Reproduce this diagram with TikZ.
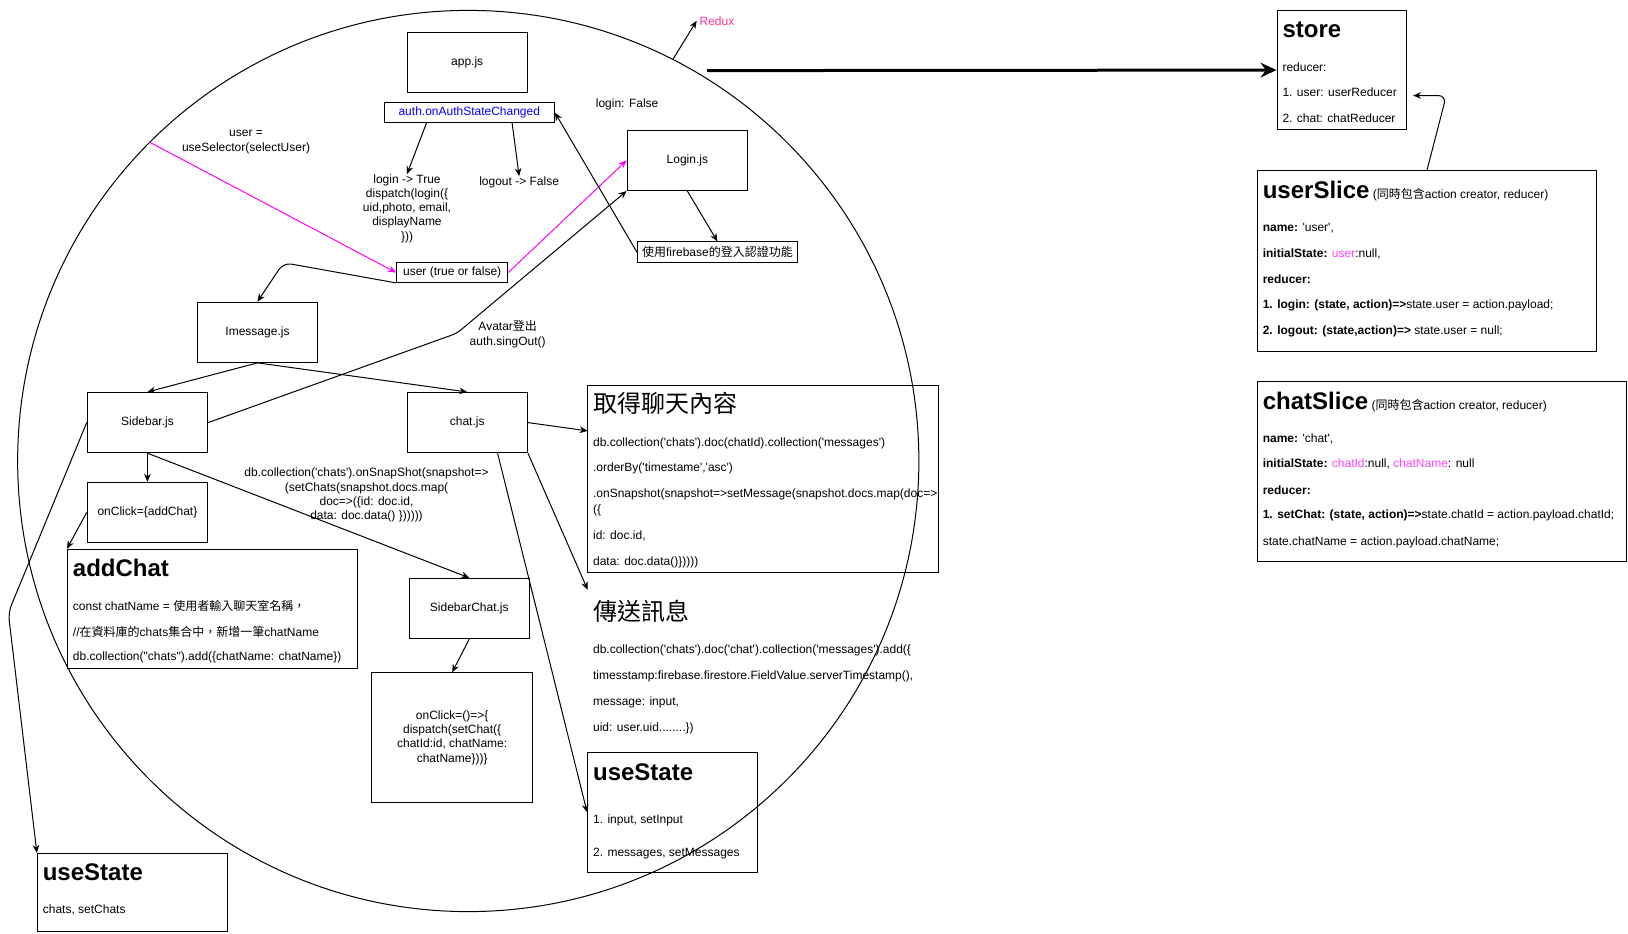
\documentclass[tikz,border=0pt]{standalone}
\usepackage{fontspec}
\setmainfont{Liberation Sans}[Ligatures=TeXOff]
\newfontfamily\cjkfont{Noto Sans CJK TC}
\newcommand{\zhtw}[1]{{\cjkfont #1}}
\newcommand{\pxu}{0.7787pt}
\usetikzlibrary{arrows.meta, positioning, calc}

\definecolor{reduxpink}{RGB}{255,51,153}
\definecolor{selectpink}{RGB}{255,0,255}
\definecolor{authblue}{RGB}{0,0,255}
\definecolor{statepink}{RGB}{255,68,255}

\tikzset{
  box/.style={draw, line width=0.75pt, inner sep=0pt, font=\fontsize{9}{11}\selectfont},
  jsbox/.style={box, minimum width=116*\pxu, minimum height=58*\pxu},
  txt/.style={inner sep=0pt, anchor=west, yshift=-1pt, font=\fontsize{9}{11}\selectfont},
  note/.style={inner sep=0pt, align=center, yshift=-1pt, font=\fontsize{9}{10.7}\selectfont},
  head/.style={inner sep=0pt, anchor=west, font=\fontsize{18}{21}\selectfont\bfseries},
  zhhead/.style={inner sep=0pt, anchor=west, font=\fontsize{18}{21}\selectfont\cjkfont},
  link/.style={->, line width=0.75pt},
}

\begin{document}
\begin{tikzpicture}[x=\pxu, y=-\pxu, >={Stealth[length=6pt,width=5pt,inset=2pt]}]
  \useasboundingbox (0,0) rectangle (1568,899);

  % react side
  \node[draw, circle, line width=0.75pt, minimum size=868*\pxu, inner sep=0pt] (frontend) at (451,444) {};
  \node[inner sep=2pt, anchor=west, text=reduxpink, font=\fontsize{9}{11}\selectfont] (redux) at (671,20) {Redux};
  \draw[link] (frontend.63.5) -- (redux.west);

  \node[jsbox] (app) at (450,60) {app.js};
  \node[box, minimum width=164*\pxu, minimum height=19*\pxu, text=authblue] (auth) at (452,108.5) {auth.onAuthStateChanged};
  \node[note] (loginfalse) at (604,99) {login: False};
  \node[jsbox] (login) at (662,154.5) {Login.js};
  \node[box, minimum width=154*\pxu, minimum height=20*\pxu] (firebase) at (691,243) {\zhtw{使用}firebase\zhtw{的登入認證功能}};
  \node[note] (logintext) at (392,199.5) {login -> True\\dispatch(login(\{\\uid,photo, email,\\displayName\\\}))};
  \node[note] (logouttext) at (500,174) {logout -> False};
  \node[note] (selectuser) at (237,135.5) {user =\\useSelector(selectUser)};
  \node[box, minimum width=107*\pxu, minimum height=19*\pxu] (user) at (435.5,262.5) {user (true or false)};

  \node[jsbox] (imessage) at (248,320) {Imessage.js};
  \node[jsbox] (sidebar) at (142,407) {Sidebar.js};
  \node[jsbox] (chat) at (450,407) {chat.js};
  \node[note] (signout) at (489,320.5) {Avatar\zhtw{登出}\\auth.singOut()};
  \node[jsbox] (addchatbtn) at (142,493.5) {onClick=\{addChat\}};
  \node[jsbox] (sidebarchat) at (452,586) {SidebarChat.js};
  \node[note] (snapshot) at (353,475.5) {db.collection('chats').onSnapShot(snapshot=>\\(setChats(snapshot.docs.map(\\doc=>(\{id: doc.id,\\data: doc.data() \})))))};
  \node[box, minimum width=155*\pxu, minimum height=125*\pxu, align=center, font=\fontsize{9}{10.7}\selectfont] (setchat) at (435.5,710.5) {onClick=()=>\{\\dispatch(setChat(\{\\chatId:id, chatName:\\chatName\}))\}};

  \node[box, minimum width=279*\pxu, minimum height=115*\pxu] (addchat) at (204.5,586.5) {};
  \node[head] (addchattitle) at (70,547) {addChat};
  \node[txt] (addchat1) at (70,582) {const chatName = \zhtw{使用者輸入聊天室名稱，}};
  \node[txt] (addchat2) at (70,607) {//\zhtw{在資料庫的}chats\zhtw{集合中，新增一筆}chatName};
  \node[txt] (addchat3) at (70,632) {db.collection("chats").add(\{chatName: chatName\})};

  \node[box, minimum width=183*\pxu, minimum height=75*\pxu] (chatsstate) at (127.5,859.5) {};
  \node[head] (chatsstatetitle) at (41,840) {useState};
  \node[txt] (chatsstate1) at (41,875) {chats, setChats};

  \node[box, minimum width=338*\pxu, minimum height=180*\pxu] (fetch) at (735,461) {};
  \node[zhhead] (fetchtitle) at (571,388) {取得聊天內容};
  \node[txt] (fetch1) at (571,426) {db.collection('chats').doc(chatId).collection('messages')};
  \node[txt] (fetch2) at (571,450) {.orderBy('timestame','asc')};
  \node[txt] (fetch3) at (571,475) {.onSnapshot(snapshot=>setMessage(snapshot.docs.map(doc=>};
  \node[txt] (fetch4) at (571,490) {(\{};
  \node[txt] (fetch5) at (571,515) {id: doc.id,};
  \node[txt] (fetch6) at (571,540) {data: doc.data()\}))))};

  \node[zhhead] (sendtitle) at (571,589) {傳送訊息};
  \node[txt] (send1) at (571,625) {db.collection('chats').doc('chat').collection('messages').add(\{};
  \node[txt] (send2) at (571,650) {timesstamp:firebase.firestore.FieldValue.serverTimestamp(),};
  \node[txt] (send3) at (571,675) {message: input,};
  \node[txt] (send4) at (571,700) {uid: user.uid........\})};

  \node[box, minimum width=164*\pxu, minimum height=115*\pxu] (msgstate) at (648,782.5) {};
  \node[head] (msgstatetitle) at (571,744) {useState};
  \node[txt] (msgstate1) at (571,789) {1. input, setInput};
  \node[txt] (msgstate2) at (571,821) {2. messages, setMessages};

  % redux side
  \node[box, minimum width=125*\pxu, minimum height=115*\pxu] (store) at (1292.5,67.5) {};
  \node[head] (storetitle) at (1235,29) {store};
  \node[txt] (store1) at (1235,63) {reducer:};
  \node[txt] (store2) at (1235,88) {1. user: userReducer};
  \node[txt] (store3) at (1235,113) {2. chat: chatReducer};

  \node[box, minimum width=327*\pxu, minimum height=175*\pxu] (userslice) at (1374.5,251.5) {};
  \node[txt] (userslicetitle) at (1216,183) {{\fontsize{18}{21}\selectfont\bfseries userSlice}\ (\zhtw{同時包含}action creator, reducer)};
  \node[txt] (userslice1) at (1216,218) {\textbf{name:} 'user',};
  \node[txt] (userslice2) at (1216,243) {\textbf{initialState:} \textcolor{statepink}{user}:null,};
  \node[txt] (userslice3) at (1216,268) {\textbf{reducer:}};
  \node[txt] (userslice4) at (1216,293) {\textbf{1. login: (state, action)=>}state.user = action.payload;};
  \node[txt] (userslice5) at (1216,318) {\textbf{2. logout: (state,action)=>} state.user = null;};

  \node[box, minimum width=356*\pxu, minimum height=174*\pxu] (chatslice) at (1389,454) {};
  \node[txt] (chatslicetitle) at (1216,386) {{\fontsize{18}{21}\selectfont\bfseries chatSlice}\ (\zhtw{同時包含}action creator, reducer)};
  \node[txt] (chatslice1) at (1216,421) {\textbf{name:} 'chat',};
  \node[txt] (chatslice2) at (1216,446) {\textbf{initialState:} \textcolor{statepink}{chatId}:null, \textcolor{statepink}{chatName}: null};
  \node[txt] (chatslice3) at (1216,471) {\textbf{reducer:}};
  \node[txt] (chatslice4) at (1216,495) {\textbf{1. setChat: (state, action)=>}state.chatId = action.payload.chatId;};
  \node[txt] (chatslice5) at (1216,521) {state.chatName = action.payload.chatName;};

  % connectors
  \coordinate (reduxtail) at (681,68);
  \coordinate (storein) at (1361,92);
  \coordinate (fetchin) at (566,415);
  \coordinate (sendin) at (566,568);
  \draw[line width=2.25pt, -{Stealth[length=12pt,width=11pt,inset=4pt]}] (reduxtail) -- (store.west);
  \draw[link, rounded corners=6pt] (userslice.north) -- (1393,92) -- (storein);

  \draw[link] ($(auth.south west)!.25!(auth.south east)$) -- (logintext.north);
  \draw[link] ($(auth.south west)!.75!(auth.south east)$) -- (logouttext.north);
  \draw[link, selectpink] (frontend.135.4) -- (user.west);
  \draw[link, selectpink] (user.east) -- (login.west);
  \draw[link, rounded corners=6pt] (user.south west) -- (273,253) -- (imessage.north);
  \draw[link] (login.south) -- (firebase.north);
  \draw[link] (firebase.west) -- (auth.east);
  \draw[link] (imessage.south) -- (sidebar.north);
  \draw[link] (imessage.south) -- (chat.north);
  \draw[link, rounded corners=4pt] (sidebar.east) -- (440,321) -- (login.south west);
  \draw[link] (sidebar.south) -- (addchatbtn.north);
  \draw[link] (addchatbtn.west) -- (addchat.north west);
  \draw[link] (sidebar.south) -- (sidebarchat.north);
  \draw[link, rounded corners=6pt] (sidebar.west) -- (8,590) -- (chatsstate.north west);
  \draw[link] (sidebarchat.south) -- (setchat.north);
  \draw[link] (chat.east) -- (fetchin);
  \draw[link] (chat.south east) -- (sendin);
  \draw[link] ($(chat.south)!.5!(chat.south east)$) -- (msgstate.west);
\end{tikzpicture}
\end{document}
